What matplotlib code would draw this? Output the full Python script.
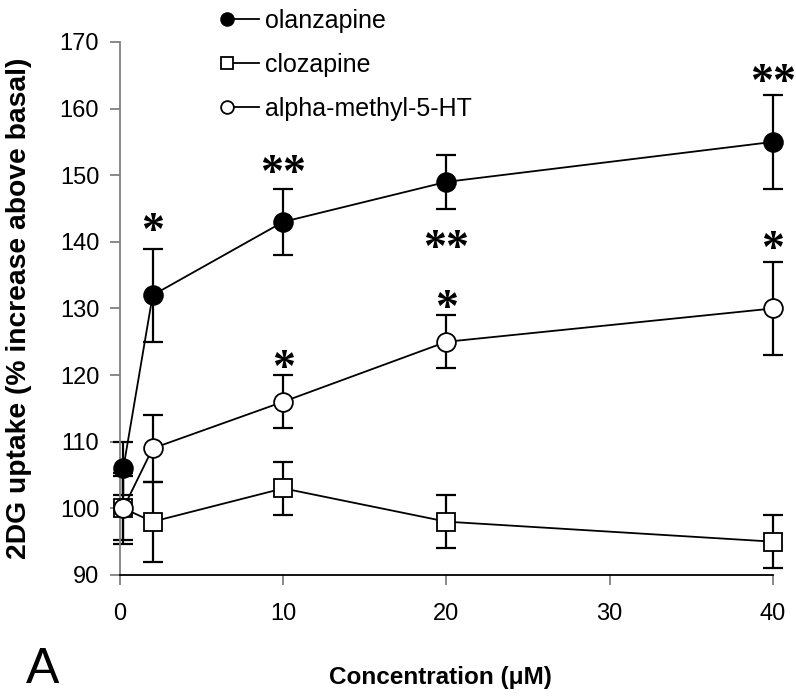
import matplotlib
matplotlib.use("Agg")
import matplotlib.pyplot as plt
import numpy as np
from matplotlib.legend_handler import HandlerLine2DCompound

plt.rcParams['font.family'] = ['Liberation Sans', 'DejaVu Sans']

# data
conc = [0.2, 2, 10, 20, 40]
olanzapine = [106, 132, 143, 149, 155]
olanzapine_err = [4, 7, 5, 4, 7]
clozapine = [100, 98, 103, 98, 95]
clozapine_err = [5.3, 6, 4, 4, 4]
alpha_m5ht = [100, 109, 116, 125, 130]
alpha_m5ht_err = [4.8, 5, 4, 4, 7]

# significance marks (x, y in data units, label)
sig_x = [2, 10, 20, 40, 10, 20, 40]
sig_y = [143.5, 152.2, 140.9, 165.8, 122.8, 131.8, 140.8]
sig_txt = ['*', '**', '**', '**', '*', '*', '*']


class MarkerLeft(HandlerLine2DCompound):
    # marker at the left end of the legend line
    def get_xdata(self, legend, xdescent, ydescent, width, height, fontsize):
        xdata = np.array([-xdescent, -xdescent + width])
        return xdata, np.array([-xdescent])


fig = plt.figure(figsize=(7.96, 6.96), dpi=100)
ax = fig.add_axes([0.1508, 0.1739, 0.8202, 0.7658])

series = [
    (olanzapine, olanzapine_err, 'o', 'black', 'olanzapine'),
    (clozapine, clozapine_err, 's', 'white', 'clozapine'),
    (alpha_m5ht, alpha_m5ht_err, 'o', 'white', 'alpha-methyl-5-HT'),
]
handles = []
for vals, err, mk, fc, lab in series:
    ax.errorbar(conc, vals, yerr=err, fmt='none', ecolor='black',
                elinewidth=1.6, capsize=7.5, capthick=1.6, clip_on=False, zorder=2)
    ln, = ax.plot(conc, vals, color='black', lw=1.3, marker=mk, markersize=13.5 if mk == 'o' else 13,
                  markerfacecolor=fc, markeredgecolor='black', markeredgewidth=1.3,
                  clip_on=False, zorder=3, label=lab)
    handles.append(ln)

# asterisks: glyph sits high in its line box, so nudge the anchor down a bit
for x, y, t in zip(sig_x, sig_y, sig_txt):
    ax.annotate(t, (x, y), xytext=(0, -14), textcoords='offset pixels',
                ha='center', va='center', fontsize=33, fontweight='bold',
                family='Liberation Serif', color='black')

ax.set_xlim(0, 40)
ax.set_ylim(90, 170)
ax.set_xticks([0, 10, 20, 30, 40])
ax.set_yticks(np.arange(90, 171, 10))
ax.spines['top'].set_visible(False)
ax.spines['right'].set_visible(False)
ax.spines['left'].set_color('#808080')
ax.spines['left'].set_linewidth(1.3)
ax.spines['bottom'].set_color('black')
ax.spines['bottom'].set_linewidth(1.3)
ax.tick_params(axis='both', direction='out', length=7, width=1.3, color='#808080',
               labelsize=17)
ax.tick_params(axis='x', pad=13)
ax.tick_params(axis='y', pad=8)

ax.set_ylabel('2DG uptake (% increase above basal)', fontsize=20.3, fontweight='bold')
ax.yaxis.set_label_coords(-0.135, 0.5)
fig.text(0.553, 0.027, 'Concentration (μM)', fontsize=17.5, fontweight='bold',
         ha='center', va='center')
fig.text(0.032, 0.037, 'A', fontsize=36, ha='left', va='center')

leg = fig.legend(handles=handles, loc='upper left', bbox_to_anchor=(0.285, 0.987),
                 frameon=False, fontsize=18, handlelength=1.28, handletextpad=0.24,
                 labelspacing=0.79, borderpad=0, borderaxespad=0, markerscale=0.68,
                 handler_map={h: MarkerLeft() for h in handles})

fig.savefig('out.png', dpi=100)
